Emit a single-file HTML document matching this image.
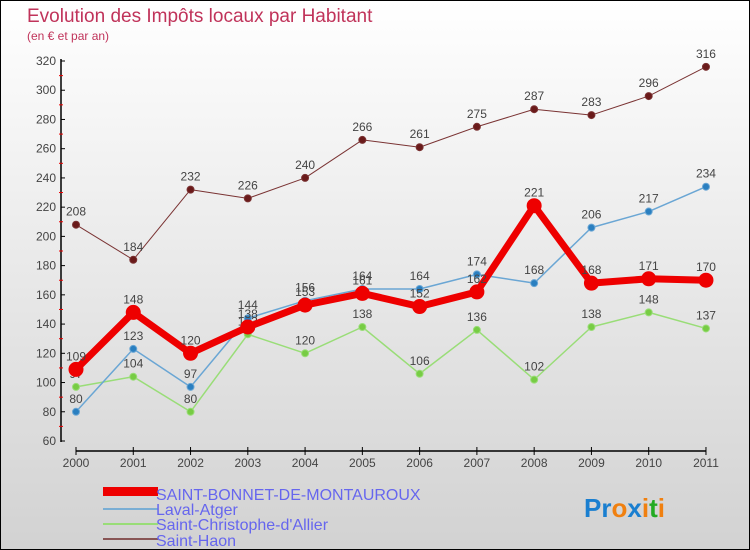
<!DOCTYPE html>
<html><head><meta charset="utf-8"><style>
body{margin:0}
#c{position:relative;width:748px;height:548px;border:1px solid #000;background:linear-gradient(#fff,#d2d2d2);overflow:hidden;font-family:"Liberation Sans",sans-serif}
</style></head><body>
<div id="c">
<svg id="s" width="748" height="548" style="position:absolute;left:0;top:0">
<text x="26" y="21" font-size="19" fill="#c0335a">Evolution des Impôts locaux par Habitant</text>
<text x="26" y="39" font-size="12" fill="#c0335a">(en € et par an)</text>
<g id="axes"></g><g id="series"></g>
<g>
<rect x="102" y="486" width="55" height="9" fill="#e00"/>
<text x="155" y="499" font-size="16" fill="#6666ee">SAINT-BONNET-DE-MONTAUROUX</text>
<line x1="102" y1="508" x2="157" y2="508" stroke="#7aaed4" stroke-width="2"/>
<text x="155" y="514" font-size="16" fill="#6666ee">Laval-Atger</text>
<line x1="102" y1="523" x2="157" y2="523" stroke="#99dd77" stroke-width="2"/>
<text x="155" y="529" font-size="16" fill="#6666ee">Saint-Christophe-d'Allier</text>
<line x1="102" y1="538" x2="157" y2="538" stroke="#885555" stroke-width="2"/>
<text x="155" y="545" font-size="16" fill="#6666ee">Saint-Haon</text>
</g>
<text x="583" y="516" font-size="26" font-weight="bold"><tspan fill="#1a7fd0">Pr</tspan><tspan fill="#f08010">o</tspan><tspan fill="#1a7fd0">x</tspan><tspan fill="#f08010">i</tspan><tspan fill="#22aa22">t</tspan><tspan fill="#f08010">i</tspan></text>
</svg>
</div>
<script>
const years=[2000,2001,2002,2003,2004,2005,2006,2007,2008,2009,2010,2011];
const yTicks=[60,80,100,120,140,160,180,200,220,240,260,280,300,320];
const sbm=[109,148,120,138,153,161,152,162,221,168,171,170];
const laval=[80,123,97,144,156,164,164,174,168,206,217,234];
const sca=[97,104,80,133,120,138,106,136,102,138,148,137];
const haon=[208,184,232,226,240,266,261,275,287,283,296,316];
const NS="http://www.w3.org/2000/svg";
const X=i=>75+i*57.27, Y=v=>440-(v-60)*380/260;
function mk(t,a,p){const e=document.createElementNS(NS,t);for(const k in a)e.setAttribute(k,a[k]);p.appendChild(e);return e;}
const ax=document.getElementById('axes');
let l=mk('line',{x1:60,y1:58,x2:60,y2:441,stroke:'#000','stroke-width':1.5},ax);


yTicks.forEach((v,i)=>{
 mk('line',{x1:60,y1:Y(v),x2:64,y2:Y(v),stroke:'#000'},ax);
 if(i<yTicks.length-1)mk('line',{x1:58,y1:Y(v+10),x2:62,y2:Y(v+10),stroke:'#e00'},ax);
 const t=mk('text',{x:55,y:Y(v)+4,'font-size':12,fill:'#444','text-anchor':'end'},ax);t.textContent=v;
 
 
});
l=mk('line',{x1:75,y1:450,x2:705,y2:450,stroke:'#000','stroke-width':1.5},ax);


years.forEach((y,i)=>{
 mk('line',{x1:X(i),y1:446,x2:X(i),y2:454,stroke:'#000'},ax);
 const t=mk('text',{x:X(i),y:466,'font-size':12,fill:'#444','text-anchor':'middle'},ax);t.textContent=y;
 
 
});
const sg=document.getElementById('series');
function draw(d,name,col,w,r,fill){
 const g=mk('g',{},sg);
 
 
 mk('polyline',{points:d.map((v,i)=>X(i)+','+Y(v)).join(' '),fill:'none',stroke:col,'stroke-width':w,'stroke-linejoin':'round'},g);
 d.forEach((v,i)=>{
  const c=mk('circle',{cx:X(i),cy:Y(v),r:r,fill:fill,stroke:col,'stroke-width':1},g);
  
  
  const t=mk('text',{x:X(i),y:Y(v)-9,'font-size':12,fill:'#444','text-anchor':'middle'},g);t.textContent=v;
  
  
 });
}
draw(haon,'saint-haon','#7a3333',1,3.5,'#6a1a1a');
draw(sca,'saint-christophe','#99dd77',1.5,3.5,'#77cc44');
draw(laval,'laval-atger','#6aa6d4',1.5,3.5,'#2a7fc0');
draw(sbm,'saint-bonnet','#ee0000',7,7,'#ee0000');
</script>
</body></html>
